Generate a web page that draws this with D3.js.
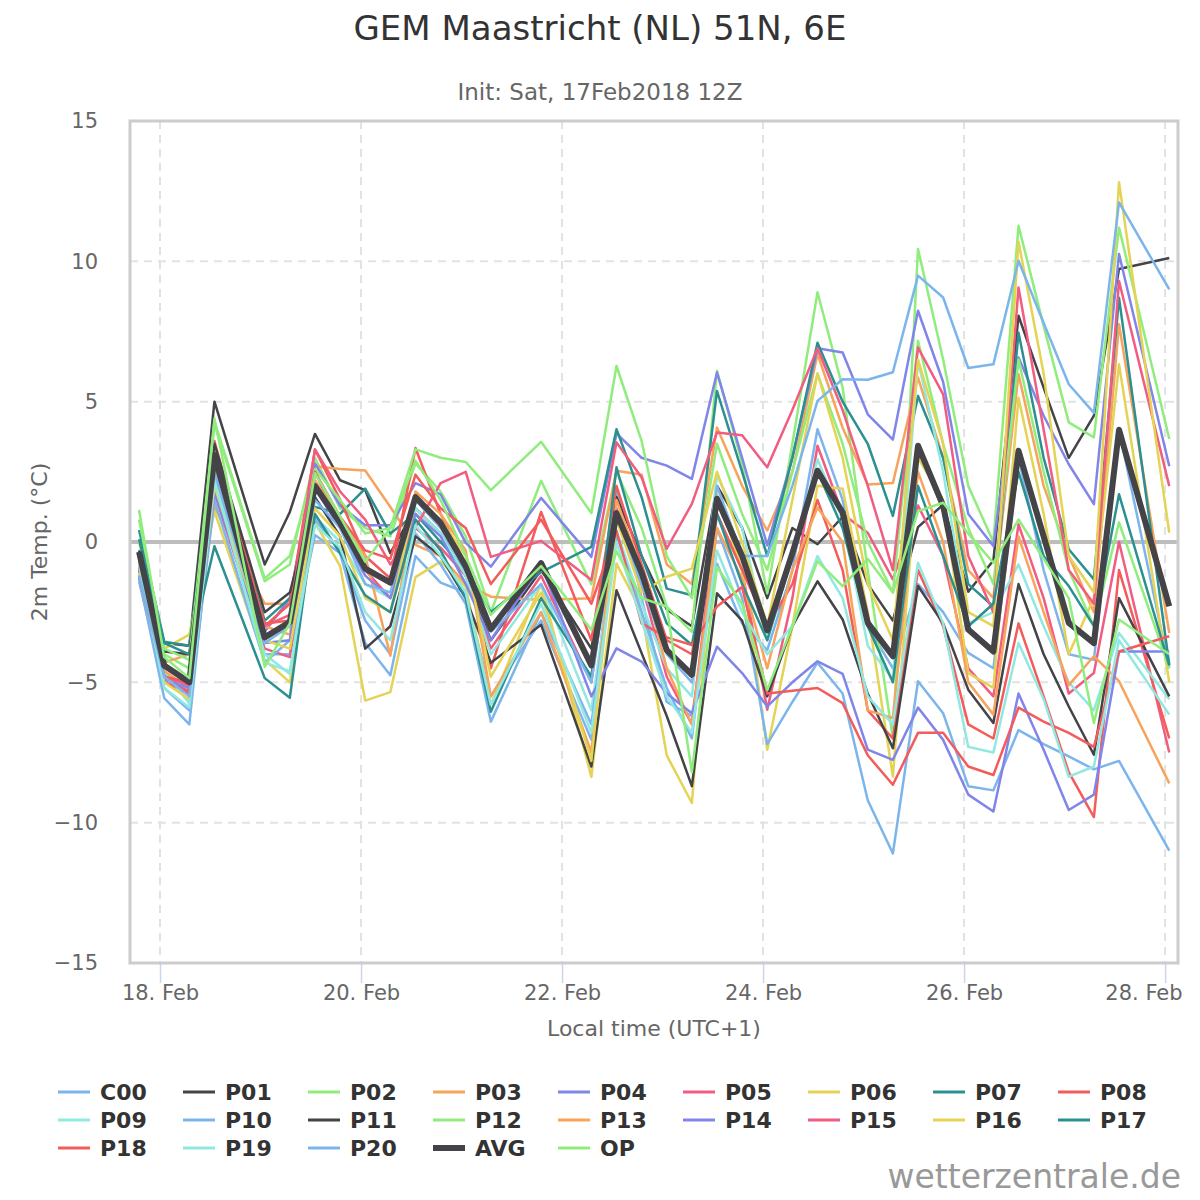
<!DOCTYPE html>
<html>
<head>
<meta charset="utf-8">
<script src="https://cdn.jsdelivr.net/npm/d3@7"></script>
<style>
  body { margin: 0; background: #fff; }
  svg { display: block; font-family: "DejaVu Sans", Verdana, sans-serif; }
</style>
</head>
<body>
<div id="chart"></div>
<script>
// forecast steps (local time, UTC+1)
var times = ["2018-02-17T19:00","2018-02-18T01:00","2018-02-18T07:00","2018-02-18T13:00",
  "2018-02-19T01:00","2018-02-19T07:00","2018-02-19T13:00","2018-02-19T19:00",
  "2018-02-20T01:00","2018-02-20T07:00","2018-02-20T13:00","2018-02-20T19:00",
  "2018-02-21T01:00","2018-02-21T07:00","2018-02-21T19:00","2018-02-22T07:00",
  "2018-02-22T13:00","2018-02-22T19:00","2018-02-23T01:00","2018-02-23T07:00",
  "2018-02-23T13:00","2018-02-23T19:00","2018-02-24T01:00","2018-02-24T07:00",
  "2018-02-24T13:00","2018-02-24T19:00","2018-02-25T01:00","2018-02-25T07:00",
  "2018-02-25T13:00","2018-02-25T19:00","2018-02-26T01:00","2018-02-26T07:00",
  "2018-02-26T13:00","2018-02-26T19:00","2018-02-27T01:00","2018-02-27T07:00",
  "2018-02-27T13:00","2018-02-28T01:00"];

var xTicks = ["2018-02-18T00:00","2018-02-20T00:00","2018-02-22T00:00","2018-02-24T00:00","2018-02-26T00:00","2018-02-28T00:00"];
var yTicks = [-15, -10, -5, 0, 5, 10, 15];

var C00 = [-1.3,-5.56,-6.5,2.1,-4.0,-4.0,0.25,-0.4,-3.6,-4.75,-0.5,-1.45,-1.8,-5.5,-2.8,-7.05,1.95,-2.0,-5.7,-6.2,-0.77,-2.9,-3.85,-1.0,4.02,1.5,-3.0,-4.5,-1.5,-2.5,-3.95,-4.5,3.0,-1.0,-4.0,-4.2,4.0,-4.5];
var P01 = [-0.6,-3.6,-3.7,5.0,-0.8,1.07,3.85,2.2,1.85,-0.4,1.2,0.3,-1.2,-3.5,-1.0,-3.8,1.6,-0.5,-2.4,-3.0,2.0,0.5,-2.0,0.5,-0.08,0.9,-1.5,-2.8,0.53,1.33,-1.77,-0.66,8.06,5.5,3.0,4.5,9.73,10.12];
var P02 = [0.0,-4.0,-4.5,4.2,-1.4,-0.8,3.0,1.2,0.5,0.2,2.8,1.8,0.2,-2.5,2.18,-1.5,2.5,0.5,-2.3,-3.2,6.1,2.8,-1.83,3.5,8.9,5.5,-1.0,-7.0,10.44,6.5,2.0,0.0,11.27,7.7,4.26,3.73,11.2,3.67];
var P03 = [-1.0,-4.3,-4.0,1.25,-2.2,-2.2,2.7,2.6,2.55,1.25,-0.1,-0.5,-1.5,-1.95,-2.07,-2.0,2.54,2.4,-0.8,-1.5,4.08,2.0,0.41,2.5,6.7,4.07,2.05,2.1,5.86,3.0,-1.0,-2.0,5.98,2.0,-0.5,-2.5,7.76,-3.24];
var P04 = [-0.8,-4.7,-5.4,2.3,-3.2,-2.0,2.8,1.3,0.6,0.6,2.1,1.7,-0.03,-0.88,1.57,-0.53,3.87,3.0,2.72,2.25,6.04,3.0,-0.12,3.0,6.9,6.75,4.55,3.65,8.24,5.7,1.0,-0.14,6.57,4.5,2.77,1.35,10.26,2.7];
var P05 = [-1.1,-5.0,-5.3,1.75,-3.8,-4.1,2.5,0.6,-1.0,-2.0,0.5,-0.2,-1.2,-3.8,-1.2,-5.0,1.2,-1.5,-4.8,-6.5,1.0,-1.0,-5.98,-2.0,3.43,1.0,0.33,-1.33,1.3,-0.5,-4.5,-5.5,0.63,-2.0,-5.4,-4.67,0.0,-7.5];
var P06 = [-0.9,-3.8,-3.3,1.1,-4.2,-5.0,0.7,-0.86,-5.65,-5.35,-1.25,-0.7,-1.6,-5.8,-1.5,-8.37,-0.77,-2.5,-7.6,-9.3,1.7,-1.0,-7.4,-3.0,2.0,1.9,-2.5,-8.36,3.0,1.5,-4.67,-5.2,5.14,1.0,-4.0,-2.0,6.33,-5.0];
var P07 = [0.43,-3.55,-3.7,3.2,-2.8,-2.0,1.25,1.0,1.9,0.3,1.0,0.0,-1.0,-2.5,-1.07,-0.17,4.02,1.6,-1.66,-1.9,5.38,2.5,-0.5,3.0,7.1,5.0,3.5,0.93,5.2,3.0,-1.5,-2.3,7.46,3.0,-0.26,-1.33,8.7,-4.37];
var P08 = [-1.2,-5.0,-5.4,3.6,-3.0,-2.2,3.3,1.5,-0.5,-1.3,3.35,1.0,-0.8,-4.5,1.07,-3.5,2.0,-0.8,-3.5,-4.0,1.0,-1.0,-3.0,-1.5,1.5,-1.0,-6.0,-7.0,-1.0,-3.0,-6.5,-7.0,-2.9,-5.5,-8.2,-9.8,-1.0,-7.0];
var P09 = [-0.6,-4.6,-5.75,2.4,-4.0,-4.7,0.9,0.0,-1.5,-2.0,1.2,0.3,-1.2,-4.0,-1.5,-6.0,0.4,-2.2,-4.5,-5.5,2.37,0.5,-3.5,-0.5,2.95,0.8,-3.7,-4.9,6.45,2.5,-2.9,-2.5,-0.8,-3.0,-5.0,-6.0,-3.24,-5.6];
var P10 = [-1.4,-5.2,-6.0,1.5,-4.3,-3.5,0.8,-0.3,-2.8,-4.0,0.3,-0.8,-2.2,-6.4,-2.5,-6.5,0.3,-2.5,-5.2,-7.0,0.5,-2.0,-7.2,-5.7,-4.3,-5.4,-9.2,-11.1,-4.96,-6.1,-8.7,-8.85,-6.7,-7.2,-7.64,-8.1,-7.8,-11.0];
var P11 = [-0.3,-3.9,-4.0,3.5,-2.5,-1.8,1.6,0.2,-3.8,-3.0,0.2,-0.5,-2.0,-4.3,-2.95,-8.0,-1.72,-3.96,-6.2,-8.7,-1.83,-2.8,-5.5,-3.0,-1.4,-2.76,-5.4,-7.35,-1.57,-2.9,-5.26,-6.45,-1.5,-4.0,-5.86,-7.58,-2.0,-5.5];
var P12 = [0.8,-3.8,-4.2,4.3,-1.3,-0.5,2.6,1.5,0.3,0.5,3.3,3.0,2.85,1.85,3.57,1.03,6.27,3.6,-0.5,-2.0,3.5,1.0,-1.0,2.5,6.0,3.5,0.0,-1.8,7.17,3.5,0.5,-1.5,6.5,2.5,-1.0,-3.0,0.7,-4.5];
var P13 = [-0.7,-4.6,-5.2,2.8,-3.0,-3.3,2.2,0.8,-0.5,-4.05,1.8,1.0,-0.3,-5.5,-2.5,-7.5,1.5,-1.0,-4.5,-6.5,0.5,-1.3,-4.5,-1.0,1.23,0.0,-6.0,-6.27,2.5,0.0,-5.0,-6.15,0.2,-2.5,-5.1,-4.07,-4.96,-8.6];
var P14 = [-1.0,-4.9,-5.2,1.8,-3.6,-3.5,1.9,0.5,-1.2,-2.0,1.0,0.2,-1.5,-3.5,-0.8,-5.5,-3.79,-4.26,-5.4,-6.1,-3.73,-4.67,-5.86,-5.0,-4.25,-4.7,-7.4,-7.76,-5.9,-7.05,-9.0,-9.6,-5.4,-7.4,-9.55,-9.0,-3.9,-3.9];
var P15 = [-0.9,-4.8,-5.1,2.9,-3.0,-2.6,3.3,1.8,0.8,-0.8,0.5,2.1,2.5,-0.53,0.04,-1.35,3.55,2.3,-0.24,1.36,3.9,3.8,2.66,4.7,6.9,4.7,2.0,-1.0,6.93,5.26,-0.5,-2.5,9.07,4.0,-1.0,-2.2,9.3,1.99];
var P16 = [-1.1,-5.0,-5.6,2.0,-3.5,-3.8,1.2,0.2,-2.0,-2.5,1.5,0.8,-0.5,-4.8,-1.8,-7.8,0.8,-1.8,-1.24,-0.95,2.5,0.0,-3.0,1.5,6.0,3.0,-1.5,-3.5,6.5,3.5,-2.5,-3.0,10.7,6.0,-0.5,-1.8,12.82,0.33];
var P17 = [0.1,-3.6,-4.0,-0.15,-4.85,-5.55,1.0,-0.4,-1.9,-2.5,0.8,-0.3,-2.0,-6.05,-2.0,-4.8,2.66,-0.5,-2.9,-3.67,1.0,-1.5,-3.5,-0.5,2.5,0.5,-3.0,-5.0,2.0,-0.5,-3.0,-2.2,2.5,-0.5,-1.57,-3.0,1.7,-4.4];
var P18 = [-1.2,-4.8,-5.0,2.7,-2.9,-2.8,2.5,0.9,-0.3,-0.6,2.4,1.2,0.5,-1.5,0.8,-2.2,0.4,-2.9,-3.4,-3.67,-2.3,-1.6,-5.4,-5.3,-5.2,-5.74,-7.6,-8.65,-6.8,-6.8,-8.0,-8.3,-5.9,-6.4,-6.8,-7.3,-3.9,-3.36];
var P19 = [-0.8,-5.2,-5.9,2.2,-4.3,-4.6,0.6,-0.2,-2.5,-3.5,0.6,-0.5,-1.8,-5.8,-2.2,-6.8,0.0,-2.8,-5.5,-6.8,-0.3,-2.5,-4.0,-3.0,-0.5,-2.0,-5.5,-6.5,-0.74,-2.9,-7.3,-7.5,-3.6,-5.6,-8.36,-8.0,-3.5,-6.15];
var P20 = [-1.2,-4.8,-5.5,2.5,-3.6,-3.0,1.5,0.5,-1.5,-1.8,1.5,0.5,-1.0,-3.2,-1.5,-5.0,1.0,-1.5,-4.0,-5.0,2.0,-0.5,-0.5,2.0,5.03,5.8,5.78,6.05,9.49,8.71,6.2,6.33,10.02,7.8,5.62,4.6,12.1,9.0];
var AVG = [-0.35,-4.4,-5.0,3.1,-3.4,-2.85,2.0,0.68,-0.95,-1.45,1.6,0.68,-0.86,-3.1,-0.75,-4.4,1.03,-1.1,-3.85,-4.73,1.54,-0.5,-3.15,-0.4,2.54,1.05,-2.88,-4.07,3.43,1.29,-3.12,-3.9,3.25,0.2,-2.88,-3.6,4.0,-2.29];
var OP  = [1.14,-4.1,-4.85,4.4,-4.45,-2.9,2.45,0.9,-0.7,0.5,2.9,1.5,-0.5,-2.6,-0.86,-3.13,-0.33,-2.0,-2.3,-8.2,-0.89,-2.2,-5.27,-3.0,-0.68,-1.57,-0.6,-1.8,1.1,1.4,0.3,-0.74,0.8,-0.6,-2.0,-6.45,-2.76,-4.0];

var seriesNames = ["C00","P01","P02","P03","P04","P05","P06","P07","P08","P09",
  "P10","P11","P12","P13","P14","P15","P16","P17","P18","P19","P20","AVG","OP"];
var seriesValues = [C00,P01,P02,P03,P04,P05,P06,P07,P08,P09,P10,P11,P12,P13,P14,P15,P16,P17,P18,P19,P20,AVG,OP];
var palette = ["#7cb5ec","#434348","#90ed7d","#f7a35c","#8085e9","#f15c80","#e4d354","#2b908f","#f45b5b","#91e8e1"];

var W = 1200, H = 1200;
var plotLeft = 130, plotRight = 1178, plotTop = 121, plotBottom = 963;
var parse = d3.timeParse("%Y-%m-%dT%H:%M");
var font = "DejaVu Sans, Verdana, sans-serif";

var svg = d3.select("#chart").append("svg")
    .attr("width", W)
    .attr("height", H);

var x = d3.scaleTime()
    .domain([parse("2018-02-17T16:50"), parse("2018-02-28T03:05")])
    .range([plotLeft, plotRight]);
var y = d3.scaleLinear()
    .domain([-15, 15])
    .range([plotBottom, plotTop]);

// titles
svg.append("text")
    .attr("x", 600).attr("y", 40)
    .attr("text-anchor", "middle")
    .attr("font-size", "34px")
    .attr("fill", "#333")
    .text("GEM Maastricht (NL) 51N, 6E");

svg.append("text")
    .attr("x", 600).attr("y", 100)
    .attr("text-anchor", "middle")
    .attr("font-size", "23px")
    .attr("fill", "#666")
    .text("Init: Sat, 17Feb2018 12Z");

// grid
svg.selectAll(".ygrid")
    .data(yTicks)
    .enter()
    .append("line")
    .attr("x1", plotLeft).attr("x2", plotRight)
    .attr("y1", function(d){ return y(d); })
    .attr("y2", function(d){ return y(d); })
    .attr("stroke", "#e2e2e2")
    .attr("stroke-width", 2)
    .attr("stroke-dasharray", "8,6");

svg.selectAll(".xgrid")
    .data(xTicks)
    .enter()
    .append("line")
    .attr("x1", function(d){ return x(parse(d)); })
    .attr("x2", function(d){ return x(parse(d)); })
    .attr("y1", plotTop).attr("y2", plotBottom)
    .attr("stroke", "#e2e2e2")
    .attr("stroke-width", 2)
    .attr("stroke-dasharray", "8,6");

// zero line
svg.append("line")
    .attr("x1", plotLeft).attr("x2", plotRight)
    .attr("y1", y(0)).attr("y2", y(0))
    .attr("stroke", "#bdbdbd")
    .attr("stroke-width", 4);

// axes
var xAxis = svg.append("g")
    .attr("transform", "translate(0," + plotBottom + ")")
    .call(d3.axisBottom(x)
        .tickValues(xTicks.map(parse))
        .tickFormat(d3.timeFormat("%-d. %b"))
        .tickSize(20)
        .tickPadding(2));
xAxis.select(".domain").remove();
xAxis.selectAll("line").attr("stroke", "#ccd6eb").attr("stroke-width", 1.5);
xAxis.selectAll("text").attr("font-size", "21px").attr("fill", "#666")
    .attr("font-family", font);
// keep the last label inside the picture
xAxis.selectAll(".tick").filter(function(d, i){ return i == xTicks.length - 1; })
    .select("text").attr("text-anchor", "end").attr("x", 17);

var yAxis = svg.append("g")
    .attr("transform", "translate(" + plotLeft + ",0)")
    .call(d3.axisLeft(y).tickValues(yTicks).tickSize(0).tickPadding(32));
yAxis.select(".domain").remove();
yAxis.selectAll("text").attr("font-size", "21px").attr("fill", "#666")
    .attr("font-family", font);

svg.append("text")
    .attr("transform", "translate(47," + ((plotTop + plotBottom) / 2) + ") rotate(-90)")
    .attr("text-anchor", "middle")
    .attr("font-size", "22px")
    .attr("fill", "#666")
    .text("2m Temp. (°C)");

svg.append("text")
    .attr("x", (plotLeft + plotRight) / 2).attr("y", 1036)
    .attr("text-anchor", "middle")
    .attr("font-size", "22px")
    .attr("fill", "#666")
    .text("Local time (UTC+1)");

// series
var line = d3.line()
    .x(function(d, i){ return x(parse(times[i])); })
    .y(function(d){ return y(d); });

var series = seriesNames.map(function(name, i){
    return {
        name: name,
        values: seriesValues[i],
        color: name == "AVG" ? "#434348" : (name == "OP" ? "#90ed7d" : palette[i % 10]),
        width: name == "AVG" ? 6 : 2.5
    };
});

svg.append("g")
    .selectAll("path")
    .data(series)
    .enter()
    .append("path")
    .attr("d", function(d){ return line(d.values); })
    .attr("fill", "none")
    .attr("stroke", function(d){ return d.color; })
    .attr("stroke-width", function(d){ return d.width; })
    .attr("stroke-linejoin", "round");

// plot border
svg.append("rect")
    .attr("x", plotLeft).attr("y", plotTop)
    .attr("width", plotRight - plotLeft).attr("height", plotBottom - plotTop)
    .attr("fill", "none")
    .attr("stroke", "#cccccc")
    .attr("stroke-width", 3);

// legend
var legend = svg.append("g")
    .selectAll("g")
    .data(series)
    .enter()
    .append("g")
    .attr("transform", function(d, i){
        return "translate(" + (58 + (i % 9) * 125) + "," + (1092 + Math.floor(i / 9) * 28) + ")";
    });

legend.append("line")
    .attr("x1", 0).attr("x2", 32)
    .attr("stroke", function(d){ return d.color; })
    .attr("stroke-width", function(d){ return d.name == "AVG" ? 6 : 3; });

legend.append("text")
    .attr("x", 42).attr("y", 8)
    .attr("font-size", "22px")
    .attr("font-weight", "bold")
    .attr("fill", "#333")
    .text(function(d){ return d.name; });

// watermark
svg.append("text")
    .attr("x", 1181).attr("y", 1188)
    .attr("text-anchor", "end")
    .attr("font-size", "33px")
    .attr("fill", "#999")
    .text("wetterzentrale.de");
</script>
</body>
</html>
